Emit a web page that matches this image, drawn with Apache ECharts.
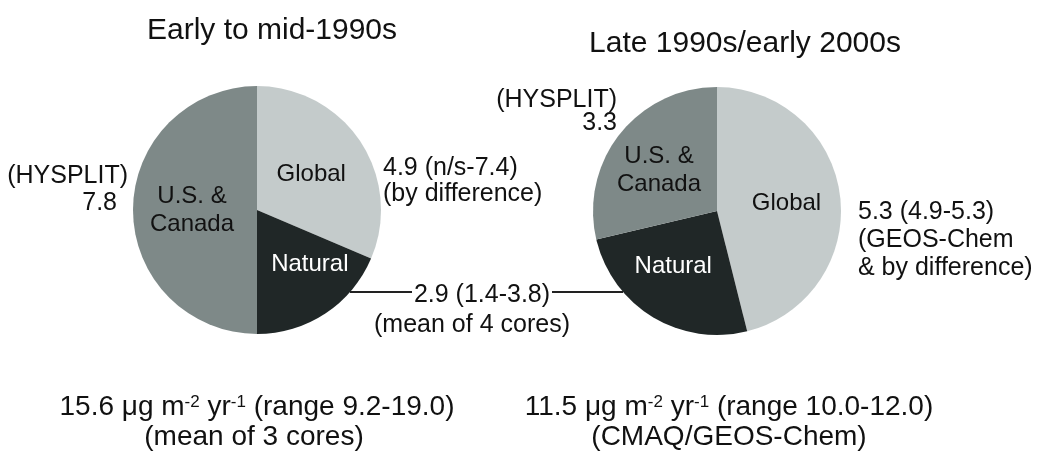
<!DOCTYPE html>
<html>
<head>
<meta charset="utf-8">
<script src="https://cdn.jsdelivr.net/npm/echarts@6/dist/echarts.min.js"></script>
<style>
  html, body { margin: 0; padding: 0; background: #fff; }
  #chart { width: 1050px; height: 458px; }
</style>
</head>
<body>
<div id="chart"></div>
<script>
/* 数据 */
var sources = ['Global', 'Natural', 'U.S. &\nCanada'];
var earlyValues = [4.9, 2.9, 7.8];   // early to mid-1990s
var lateValues = [5.3, 2.9, 3.3];    // late 1990s / early 2000s
var periodTitles = ['Early to mid-1990s', 'Late 1990s/early 2000s'];

var sliceColors = ['#c4cbcb', '#202727', '#7e8988'];
var labelColors = ['#111', '#fff', '#111'];
var FONT = '"Liberation Sans", Arial, sans-serif';

(function () {
  var myChart = echarts.init(document.getElementById('chart'));

  // pads nudge the inside labels to where the figure has them
  function pieData(values, pads) {
    return values.map(function (v, i) {
      return {
        name: sources[i],
        value: v,
        itemStyle: { color: sliceColors[i] },
        label: { color: labelColors[i], padding: pads[i] }
      };
    });
  }

  function pieSeries(values, center, pads) {
    return {
      type: 'pie',
      center: center,
      radius: 124,
      startAngle: 90,
      clockwise: true,
      silent: true,
      animation: false,
      data: pieData(values, pads),
      itemStyle: { borderWidth: 0 },
      label: {
        show: true,
        position: 'inside',
        formatter: '{b}',
        fontFamily: FONT,
        fontSize: 24,
        lineHeight: 28
      },
      labelLine: { show: false }
    };
  }

  // 文字注释
  function txt(text, x, y, align, size) {
    return {
      type: 'text',
      silent: true,
      style: {
        text: text,
        x: x,
        y: y,
        fill: '#111',
        font: (size || 25) + 'px ' + FONT,
        textAlign: align || 'left',
        textVerticalAlign: 'middle'
      }
    };
  }

  function unitText(text, x, y) {
    return {
      type: 'text',
      silent: true,
      style: {
        text: text,
        x: x,
        y: y,
        fill: '#111',
        textAlign: 'center',
        textVerticalAlign: 'middle',
        rich: {
          n: { fontFamily: FONT, fontSize: 28, lineHeight: 32, color: '#111' },
          s: { fontFamily: FONT, fontSize: 17, lineHeight: 32, color: '#111', verticalAlign: 'top', padding: [3, 0, 0, 0] }
        }
      }
    };
  }

  function line(x1, x2, y) {
    return {
      type: 'line',
      silent: true,
      shape: { x1: x1, y1: y, x2: x2, y2: y },
      style: { stroke: '#222', lineWidth: 2 }
    };
  }

  var option = {
    backgroundColor: '#fff',
    animation: false,
    series: [
      pieSeries(earlyValues, [257, 210], [0, [14, 0, 0, 34], 0]),
      pieSeries(lateValues, [717, 211], [[0, 0, 0, 10], [14, 20, 0, 0], [0, 14, 0, 0]])
    ],
    graphic: [
      txt(periodTitles[0], 272, 31, 'center', 30),
      txt(periodTitles[1], 745, 44, 'center', 30),

      txt('(HYSPLIT)', 128, 176, 'right'),
      txt('7.8', 117, 203, 'right'),
      txt('4.9 (n/s-7.4)', 383, 168),
      txt('(by difference)', 383, 194),

      txt('(HYSPLIT)', 617, 100, 'right'),
      txt('3.3', 617, 123, 'right'),
      txt('5.3 (4.9-5.3)', 858, 212),
      txt('(GEOS-Chem', 858, 240),
      txt('& by difference)', 858, 268),

      line(350, 412, 292),
      line(552, 623, 292),
      txt('2.9 (1.4-3.8)', 482, 295, 'center'),
      txt('(mean of 4 cores)', 472, 325, 'center'),

      unitText('{n|15.6 μg m}{s|-2}{n| yr}{s|-1}{n| (range 9.2-19.0)}', 257, 407),
      txt('(mean of 3 cores)', 254, 437, 'center', 28),
      unitText('{n|11.5 μg m}{s|-2}{n| yr}{s|-1}{n| (range 10.0-12.0)}', 729, 407),
      txt('(CMAQ/GEOS-Chem)', 729, 437, 'center', 28)
    ]
  };

  myChart.setOption(option);
  window.addEventListener('resize', function () {
    myChart.resize();
  });
})();
</script>
</body>
</html>
